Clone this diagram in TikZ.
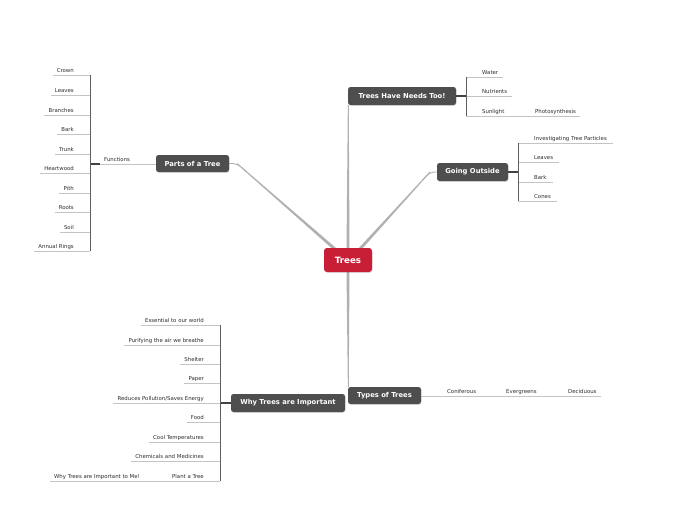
\documentclass[tikz,border=0pt]{standalone}
\usepackage{fontspec}
\setmainfont{DejaVu Sans}
\usetikzlibrary{shadows,backgrounds,calc}
\definecolor{topicgray}{HTML}{4E4E4E}
\definecolor{rootred}{HTML}{C81F36}
\definecolor{mainline}{HTML}{B0B0B0}
\definecolor{ulinec}{HTML}{C4C4C4}
\definecolor{brline}{HTML}{5E5E5E}
\definecolor{itemtext}{HTML}{2E2E2E}
\begin{document}
\begin{tikzpicture}[x=1pt,y=-1pt,
 topic/.style={fill=topicgray, rounded corners=2.5pt, text=white,
   font=\fontsize{6.8}{7}\selectfont\bfseries, minimum height=18pt, inner sep=0pt,
   drop shadow={opacity=0.25, shadow xshift=0.6pt, shadow yshift=-0.8pt}},
 root/.style={topic, fill=rootred, font=\fontsize{8.7}{9}\selectfont\bfseries,
   minimum height=24pt, minimum width=48pt, rounded corners=3pt},
 itembase/.style={inner xsep=0pt, inner ysep=1.5pt, text height=4pt, text depth=1.2pt,
   font=\fontsize{5.4}{6}\selectfont, text=itemtext},
 itemL/.style={itembase, anchor=south east},
 itemR/.style={itembase, anchor=south west},
 mainconn/.style={draw=mainline, line cap=round, line join=round},
 taper/.style={fill=mainline},
 under/.style={draw=ulinec, line width=0.9pt},
 bracketl/.style={draw=brline, line width=0.8pt},
 stub/.style={draw=brline!70!black, line width=1.5pt},
]
\useasboundingbox (0,0) rectangle (697,520);

% main topics
\node[root] (trees) at (348,260) {Trees};
\node[topic, minimum width=108pt] (needs) at (402,96) {Trees Have Needs Too!};
\node[topic, minimum width=71pt] (outside) at (472.5,172) {Going Outside};
\node[topic, minimum width=73pt, minimum height=17pt] (parts) at (192.5,163.5) {Parts of a Tree};
\node[topic, minimum width=114pt] (why) at (288,403) {Why Trees are Important};
\node[topic, minimum width=73pt, minimum height=17pt] (types) at (384.5,395.5) {Types of Trees};

\coordinate (sN) at ([yshift=-2pt]trees.north);
\coordinate (eN) at ([xshift=0.5pt]needs.south west);
\coordinate (sP) at ([xshift=12pt,yshift=-2pt]trees.north west);
\coordinate (eP) at (237,163.5);
\coordinate (sO) at ([xshift=-13pt,yshift=-2pt]trees.north east);
\coordinate (eO) at (430,172);
\coordinate (sT) at ([yshift=2pt]trees.south);
\coordinate (eT) at ([xshift=0.5pt]types.north west);

\begin{scope}[on background layer]
 \fill[white] (0,0) rectangle (697,520);
 \draw[mainconn, line width=0.9pt, rounded corners=5pt] ($(sP)!0.9!(eP)$) -- (eP) -- (parts.east);
 \draw[mainconn, line width=0.9pt, rounded corners=5pt] ($(sO)!0.9!(eO)$) -- (eO) -- (outside.west);
 \foreach \s/\e in {sN/eN, sP/eP, sO/eO, sT/eT}{
   \fill[taper] ($(\s)!1.5pt!90:(\e)$) -- ($(\e)!0.45pt!-90:(\s)$)
     -- ($(\e)!0.45pt!90:(\s)$) -- ($(\s)!1.5pt!-90:(\e)$) -- cycle;
 }
\end{scope}

% ---------- Parts of a Tree ----------
\coordinate (pb) at (90,164);
\node[itemR] (functions) at (104,164) {Functions};
\draw[under] ([xshift=-4pt]functions.south west) -- (functions.south -| parts.west);
\draw[stub] ([xshift=-4pt]functions.south west) -- (pb);
\node[itemL] (crown) at (74,75) {Crown};
\node[itemL] (leaves) at (74,95) {Leaves};
\node[itemL] (branches) at (74,115) {Branches};
\node[itemL] (bark) at (74,134) {Bark};
\node[itemL] (trunk) at (74,154) {Trunk};
\node[itemL] (heartwood) at (74,173) {Heartwood};
\node[itemL] (pith) at (74,193) {Pith};
\node[itemL] (roots) at (74,212) {Roots};
\node[itemL] (soil) at (74,232) {Soil};
\node[itemL] (rings) at (74,251) {Annual Rings};
\foreach \n in {crown,leaves,branches,bark,trunk,heartwood,pith,roots,soil,rings}
  \draw[under] ([xshift=-4pt]\n.south west) -- (\n.south -| pb);
\draw[bracketl] (crown.south -| pb) -- (rings.south -| pb);

% ---------- Why Trees are Important ----------
\coordinate (wb) at (220,403);
\draw[stub] (why.west) -- (wb);
\node[itemL] (essential) at (204,325) {Essential to our world};
\node[itemL] (purify) at (204,345) {Purifying the air we breathe};
\node[itemL] (shelter) at (204,364) {Shelter};
\node[itemL] (paper) at (204,383) {Paper};
\node[itemL] (reduces) at (204,403) {Reduces Pollution/Saves Energy};
\node[itemL] (food) at (204,422) {Food};
\node[itemL] (cool) at (204,442) {Cool Temperatures};
\node[itemL] (chem) at (204,461) {Chemicals and Medicines};
\node[itemL] (plant) at (204,481) {Plant a Tree};
\node[itemL] (me) at (140,481) {Why Trees are Important to Me!};
\foreach \n in {essential,purify,shelter,paper,reduces,food,cool,chem,plant}
  \draw[under] ([xshift=-4pt]\n.south west) -- (\n.south -| wb);
\draw[under] ([xshift=-4pt]me.south west) -- ([xshift=-4pt]plant.south west);
\draw[bracketl] (essential.south -| wb) -- (plant.south -| wb);

% ---------- Trees Have Needs Too! ----------
\coordinate (nb) at (466,96);
\draw[stub] (needs.east) -- (nb);
\node[itemR] (water) at (482,77) {Water};
\node[itemR] (nutrients) at (482,96) {Nutrients};
\node[itemR] (sunlight) at (482,116) {Sunlight};
\node[itemR] (photo) at (535,116) {Photosynthesis};
\foreach \n in {water,nutrients,sunlight}
  \draw[under] (\n.south -| nb) -- ([xshift=5pt]\n.south east);
\draw[under] ([xshift=5pt]sunlight.south east) -- ([xshift=4pt]photo.south east);
\draw[bracketl] (water.south -| nb) -- (sunlight.south -| nb);

% ---------- Going Outside ----------
\coordinate (ob) at (518,172);
\draw[stub] (outside.east) -- (ob);
\node[itemR] (investigating) at (534,143) {Investigating Tree Particles};
\node[itemR] (oleaves) at (534,162) {Leaves};
\node[itemR] (obark) at (534,182) {Bark};
\node[itemR] (cones) at (534,201) {Cones};
\foreach \n in {investigating,oleaves,obark,cones}
  \draw[under] (\n.south -| ob) -- ([xshift=6pt]\n.south east);
\draw[bracketl] (investigating.south -| ob) -- (cones.south -| ob);

% ---------- Types of Trees ----------
\node[itemR] (coniferous) at (447,396) {Coniferous};
\node[itemR] (evergreens) at (506,396) {Evergreens};
\node[itemR] (deciduous) at (568,396) {Deciduous};
\draw[under] (coniferous.south -| types.east) -- ([xshift=6pt]coniferous.south east);
\draw[under] ([xshift=6pt]coniferous.south east) -- ([xshift=6pt]evergreens.south east);
\draw[under] ([xshift=6pt]evergreens.south east) -- ([xshift=4pt]deciduous.south east);
\end{tikzpicture}
\end{document}
